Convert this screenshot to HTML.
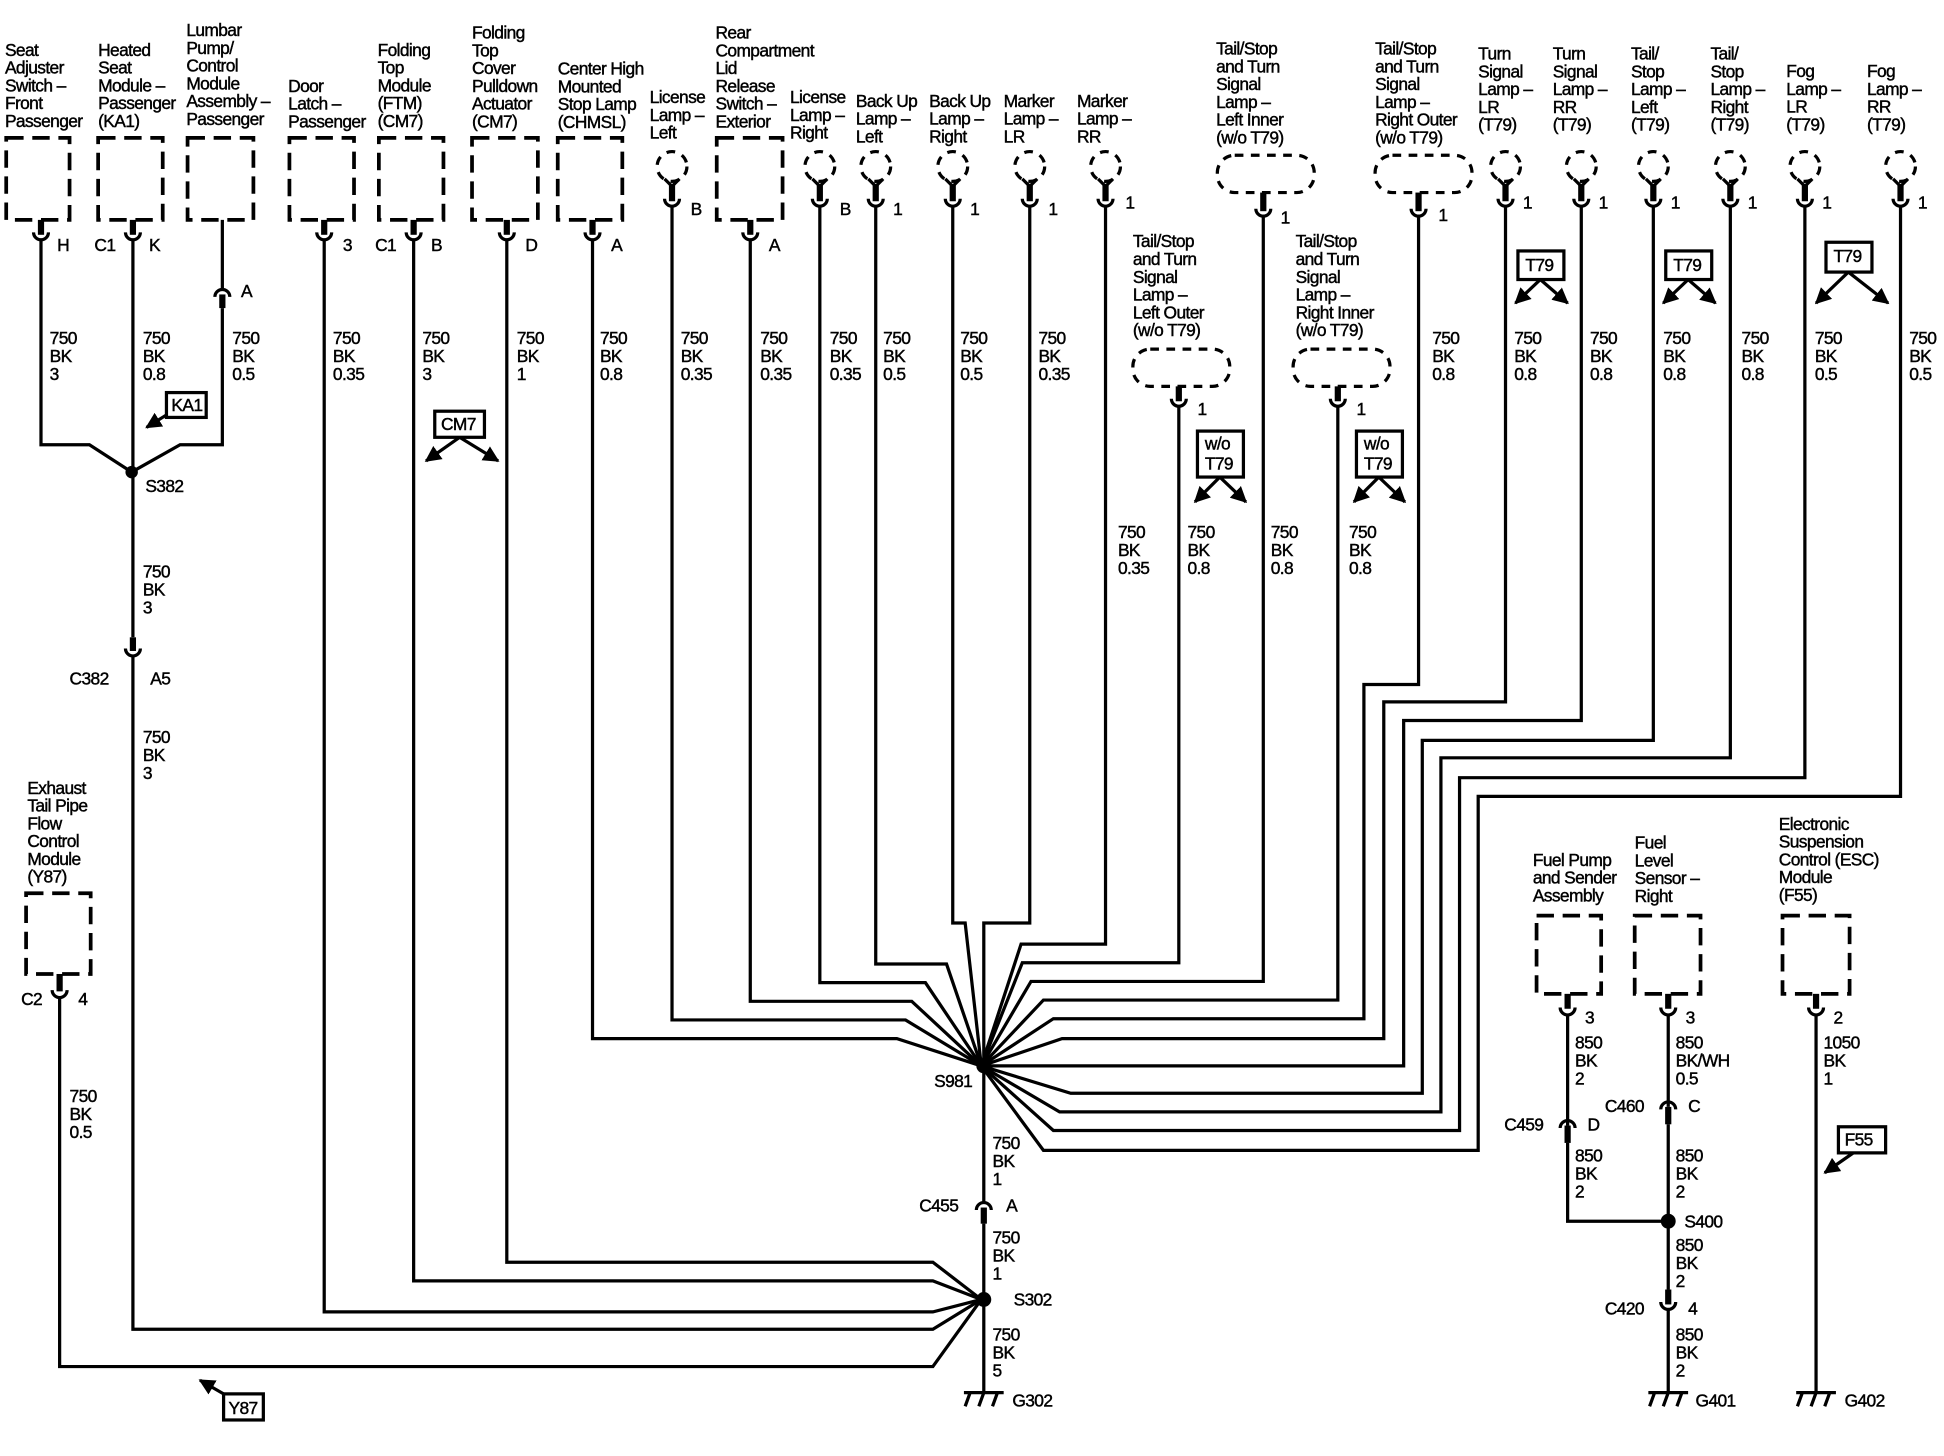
<!DOCTYPE html>
<html><head><meta charset="utf-8"><style>
html,body{margin:0;padding:0;background:#fff}
svg{display:block}
text{font-family:"Liberation Sans Narrow","Liberation Sans",sans-serif;font-size:14px;letter-spacing:-0.5px;fill:#000;stroke:#000;stroke-width:0.35}
.w{fill:none;stroke:#000;stroke-width:2.6;stroke-linejoin:miter}
.b{fill:none;stroke:#000;stroke-width:3;stroke-dasharray:14 7}
.s{stroke:#000;stroke-width:5}
.c{fill:none;stroke:#000;stroke-width:2.6}
.bx{fill:#fff;stroke:#000;stroke-width:2.6}
</style></head><body>
<svg width="1944" height="1456" viewBox="0 0 1565 1172" preserveAspectRatio="none" xmlns="http://www.w3.org/2000/svg">
<defs><marker id="a" viewBox="0 0 10 10" refX="9" refY="5" markerWidth="5" markerHeight="5" orient="auto"><path d="M0,0L10,5L0,10z" fill="#000"/></marker></defs>

<g class="b">
<rect x="5" y="111" width="51" height="66"/><rect x="79" y="111" width="52" height="66"/><rect x="151" y="111" width="53" height="66"/>
<rect x="233" y="111" width="52" height="66"/><rect x="305" y="111" width="52" height="66"/><rect x="380" y="111" width="53" height="66"/>
<rect x="449" y="111" width="52" height="66"/><rect x="577" y="111" width="53" height="66"/>
<rect x="21" y="719" width="52" height="65"/>
<rect x="1237" y="737" width="52" height="63"/><rect x="1316" y="737" width="53" height="63"/><rect x="1435" y="737" width="54" height="63"/>
</g>
<g class="b" style="stroke-dasharray:7 6;stroke-width:2.6">
<circle cx="541" cy="134" r="12"/><circle cx="660" cy="134" r="12"/><circle cx="705" cy="134" r="12"/><circle cx="767" cy="134" r="12"/>
<circle cx="829" cy="134" r="12"/><circle cx="890" cy="134" r="12"/><circle cx="1212" cy="134" r="12"/><circle cx="1273" cy="134" r="12"/>
<circle cx="1331" cy="134" r="12"/><circle cx="1393" cy="134" r="12"/><circle cx="1453" cy="134" r="12"/><circle cx="1530" cy="134" r="12"/>
<rect x="980" y="125" width="78" height="30" rx="14"/><rect x="1107" y="125" width="78" height="30" rx="14"/>
<rect x="912" y="281" width="78" height="30" rx="14"/><rect x="1041" y="281" width="78" height="30" rx="14"/>
</g>
<g class="c">
<path d="M535,144L541,150L547,144M654,144L660,150L666,144M699,144L705,150L711,144M761,144L767,150L773,144M823,144L829,150L835,144M884,144L890,150L896,144M1206,144L1212,150L1218,144M1267,144L1273,150L1279,144M1325,144L1331,150L1337,144M1387,144L1393,150L1399,144M1447,144L1453,150L1459,144M1524,144L1530,150L1536,144"/>
</g>
<g class="s">
<line x1="541" y1="148" x2="541" y2="162"/><line x1="660" y1="148" x2="660" y2="162"/><line x1="705" y1="148" x2="705" y2="162"/><line x1="767" y1="148" x2="767" y2="162"/>
<line x1="829" y1="148" x2="829" y2="162"/><line x1="890" y1="148" x2="890" y2="162"/><line x1="1212" y1="148" x2="1212" y2="162"/><line x1="1273" y1="148" x2="1273" y2="162"/>
<line x1="1331" y1="148" x2="1331" y2="162"/><line x1="1393" y1="148" x2="1393" y2="162"/><line x1="1453" y1="148" x2="1453" y2="162"/><line x1="1530" y1="148" x2="1530" y2="162"/>
<line x1="1017" y1="155" x2="1017" y2="170"/><line x1="1142" y1="155" x2="1142" y2="170"/><line x1="949" y1="311" x2="949" y2="323"/><line x1="1077" y1="311" x2="1077" y2="323"/>
<line x1="33" y1="177" x2="33" y2="189"/><line x1="107" y1="177" x2="107" y2="189"/><line x1="261" y1="177" x2="261" y2="189"/><line x1="333" y1="177" x2="333" y2="189"/>
<line x1="408" y1="177" x2="408" y2="189"/><line x1="477" y1="177" x2="477" y2="189"/><line x1="604" y1="177" x2="604" y2="189"/>
<line x1="48" y1="784" x2="48" y2="798"/><line x1="1262" y1="800" x2="1262" y2="812"/><line x1="1343" y1="800" x2="1343" y2="812"/><line x1="1462" y1="800" x2="1462" y2="812"/>
<line x1="179" y1="237" x2="179" y2="248"/><line x1="107" y1="513" x2="107" y2="524"/><line x1="792" y1="972" x2="792" y2="985"/>
<line x1="1262" y1="906" x2="1262" y2="920"/><line x1="1343" y1="891" x2="1343" y2="905"/><line x1="1343" y1="1038" x2="1343" y2="1050"/>
</g>
<g class="c">
<path d="M535,160a6,6 0 0 0 12,0M654,160a6,6 0 0 0 12,0M699,160a6,6 0 0 0 12,0M761,160a6,6 0 0 0 12,0M823,160a6,6 0 0 0 12,0M884,160a6,6 0 0 0 12,0M1206,160a6,6 0 0 0 12,0M1267,160a6,6 0 0 0 12,0M1325,160a6,6 0 0 0 12,0M1387,160a6,6 0 0 0 12,0M1447,160a6,6 0 0 0 12,0M1524,160a6,6 0 0 0 12,0"/>
<path d="M1011,168a6,6 0 0 0 12,0M1136,168a6,6 0 0 0 12,0M943,321a6,6 0 0 0 12,0M1071,321a6,6 0 0 0 12,0"/>
<path d="M27,187a6,6 0 0 0 12,0M101,187a6,6 0 0 0 12,0M255,187a6,6 0 0 0 12,0M327,187a6,6 0 0 0 12,0M402,187a6,6 0 0 0 12,0M471,187a6,6 0 0 0 12,0M598,187a6,6 0 0 0 12,0"/>
<path d="M42,797a6,6 0 0 0 12,0M1256,811a6,6 0 0 0 12,0M1337,811a6,6 0 0 0 12,0M1456,811a6,6 0 0 0 12,0M101,522a6,6 0 0 0 12,0M1337,1048a6,6 0 0 0 12,0"/>
<path d="M173,239a6,6 0 0 1 12,0M786,974a6,6 0 0 1 12,0M1256,908a6,6 0 0 1 12,0M1337,893a6,6 0 0 1 12,0"/>
</g>

<g class="w">
<path d="M33,193V358H72L106,380"/><path d="M179,248V358H145L106,380"/><path d="M107,193V513"/><path d="M179,177V233"/>
<path d="M107,528V1070H751L790,1046"/><path d="M48,803V1100H751L790,1046"/>
<path d="M261,193V1056H751L790,1046"/><path d="M333,193V1031H751L790,1046"/><path d="M408,193V1016H751L790,1046"/>
<path d="M477,193V836H722L790,858"/><path d="M541,166V821H729L790,858"/><path d="M604,193V806H734L790,858"/>
<path d="M660,166V791H745L790,858"/><path d="M705,166V776H762L790,858"/><path d="M767,166V743H777L790,858"/>
<path d="M829,166V743H792V968"/><path d="M792,985V1120"/>
<path d="M890,166V760H822L790,858"/><path d="M949,327V775H823L790,858"/><path d="M1017,174V790H830L790,858"/>
<path d="M1077,327V805H840L790,858"/><path d="M1142,174V551H1098V820H848L790,858"/><path d="M1212,166V565H1114V836H855L790,858"/>
<path d="M1273,166V580H1130V858H790"/><path d="M1331,166V596H1145V880H862L790,858"/><path d="M1393,166V610H1160V895H853L790,858"/>
<path d="M1453,166V626H1175V910H848L790,858"/><path d="M1530,166V641H1190V926H840L790,858"/>
<path d="M1262,817V906"/><path d="M1262,920V983H1343"/><path d="M1343,817V891"/><path d="M1343,905V1038"/><path d="M1343,1054V1120"/><path d="M1462,817V1120"/>
</g>
<circle cx="106" cy="380" r="5"/><circle cx="792" cy="858" r="6"/><circle cx="792" cy="1046" r="6"/><circle cx="1343" cy="983" r="6"/>
<g class="w">
<path d="M776,1121H808M781,1121l-4,11M792,1121l-4,11M803,1121l-4,11"/>
<path d="M1327,1121H1359M1332,1121l-4,11M1343,1121l-4,11M1354,1121l-4,11"/>
<path d="M1446,1121H1478M1451,1121l-4,11M1462,1121l-4,11M1473,1121l-4,11"/>
</g>
<rect class="bx" x="134" y="316" width="32" height="20"/><text x="138" y="331">KA1</text>
<line class="w" x1="134" y1="334" x2="118" y2="344" marker-end="url(#a)"/>
<rect class="bx" x="350" y="331" width="40" height="21"/><text x="355" y="346">CM7</text>
<line class="w" x1="370" y1="352" x2="343" y2="371" marker-end="url(#a)"/><line class="w" x1="370" y1="352" x2="401" y2="371" marker-end="url(#a)"/>
<rect class="bx" x="964" y="347" width="37" height="37"/><text x="970" y="362">w/o</text><text x="970" y="378">T79</text>
<line class="w" x1="982" y1="384" x2="962" y2="404" marker-end="url(#a)"/><line class="w" x1="982" y1="384" x2="1003" y2="404" marker-end="url(#a)"/>
<rect class="bx" x="1092" y="347" width="37" height="37"/><text x="1098" y="362">w/o</text><text x="1098" y="378">T79</text>
<line class="w" x1="1110" y1="384" x2="1090" y2="404" marker-end="url(#a)"/><line class="w" x1="1110" y1="384" x2="1131" y2="404" marker-end="url(#a)"/>
<rect class="bx" x="1222" y="202" width="37" height="23"/><text x="1228" y="218">T79</text>
<line class="w" x1="1240" y1="225" x2="1220" y2="244" marker-end="url(#a)"/><line class="w" x1="1240" y1="225" x2="1262" y2="244" marker-end="url(#a)"/>
<rect class="bx" x="1341" y="202" width="37" height="23"/><text x="1347" y="218">T79</text>
<line class="w" x1="1359" y1="225" x2="1339" y2="244" marker-end="url(#a)"/><line class="w" x1="1359" y1="225" x2="1381" y2="244" marker-end="url(#a)"/>
<rect class="bx" x="1470" y="195" width="37" height="24"/><text x="1476" y="211">T79</text>
<line class="w" x1="1488" y1="219" x2="1462" y2="244" marker-end="url(#a)"/><line class="w" x1="1488" y1="219" x2="1520" y2="244" marker-end="url(#a)"/>
<rect class="bx" x="1480" y="907" width="38" height="21"/><text x="1485" y="922">F55</text>
<line class="w" x1="1492" y1="928" x2="1469" y2="944" marker-end="url(#a)"/>
<rect class="bx" x="180" y="1122" width="32" height="21"/><text x="184" y="1138">Y87</text>
<line class="w" x1="180" y1="1122" x2="161" y2="1111" marker-end="url(#a)"/>

<g>
<text x="4" y="45">Seat<tspan x="4" dy="14.3">Adjuster</tspan><tspan x="4" dy="14.3">Switch –</tspan><tspan x="4" dy="14.3">Front</tspan><tspan x="4" dy="14.3">Passenger</tspan></text>
<text x="79" y="45">Heated<tspan x="79" dy="14.3">Seat</tspan><tspan x="79" dy="14.3">Module –</tspan><tspan x="79" dy="14.3">Passenger</tspan><tspan x="79" dy="14.3">(KA1)</tspan></text>
<text x="150" y="29">Lumbar<tspan x="150" dy="14.3">Pump/</tspan><tspan x="150" dy="14.3">Control</tspan><tspan x="150" dy="14.3">Module</tspan><tspan x="150" dy="14.3">Assembly –</tspan><tspan x="150" dy="14.3">Passenger</tspan></text>
<text x="232" y="74">Door<tspan x="232" dy="14.3">Latch –</tspan><tspan x="232" dy="14.3">Passenger</tspan></text>
<text x="304" y="45">Folding<tspan x="304" dy="14.3">Top</tspan><tspan x="304" dy="14.3">Module</tspan><tspan x="304" dy="14.3">(FTM)</tspan><tspan x="304" dy="14.3">(CM7)</tspan></text>
<text x="380" y="31">Folding<tspan x="380" dy="14.3">Top</tspan><tspan x="380" dy="14.3">Cover</tspan><tspan x="380" dy="14.3">Pulldown</tspan><tspan x="380" dy="14.3">Actuator</tspan><tspan x="380" dy="14.3">(CM7)</tspan></text>
<text x="449" y="60">Center High<tspan x="449" dy="14.3">Mounted</tspan><tspan x="449" dy="14.3">Stop Lamp</tspan><tspan x="449" dy="14.3">(CHMSL)</tspan></text>
<text x="523" y="83">License<tspan x="523" dy="14.3">Lamp –</tspan><tspan x="523" dy="14.3">Left</tspan></text>
<text x="576" y="31">Rear<tspan x="576" dy="14.3">Compartment</tspan><tspan x="576" dy="14.3">Lid</tspan><tspan x="576" dy="14.3">Release</tspan><tspan x="576" dy="14.3">Switch –</tspan><tspan x="576" dy="14.3">Exterior</tspan></text>
<text x="636" y="83">License<tspan x="636" dy="14.3">Lamp –</tspan><tspan x="636" dy="14.3">Right</tspan></text>
<text x="689" y="86">Back Up<tspan x="689" dy="14.3">Lamp –</tspan><tspan x="689" dy="14.3">Left</tspan></text>
<text x="748" y="86">Back Up<tspan x="748" dy="14.3">Lamp –</tspan><tspan x="748" dy="14.3">Right</tspan></text>
<text x="808" y="86">Marker<tspan x="808" dy="14.3">Lamp –</tspan><tspan x="808" dy="14.3">LR</tspan></text>
<text x="867" y="86">Marker<tspan x="867" dy="14.3">Lamp –</tspan><tspan x="867" dy="14.3">RR</tspan></text>
<text x="979" y="44">Tail/Stop<tspan x="979" dy="14.3">and Turn</tspan><tspan x="979" dy="14.3">Signal</tspan><tspan x="979" dy="14.3">Lamp –</tspan><tspan x="979" dy="14.3">Left Inner</tspan><tspan x="979" dy="14.3">(w/o T79)</tspan></text>
<text x="1107" y="44">Tail/Stop<tspan x="1107" dy="14.3">and Turn</tspan><tspan x="1107" dy="14.3">Signal</tspan><tspan x="1107" dy="14.3">Lamp –</tspan><tspan x="1107" dy="14.3">Right Outer</tspan><tspan x="1107" dy="14.3">(w/o T79)</tspan></text>
<text x="1190" y="48">Turn<tspan x="1190" dy="14.3">Signal</tspan><tspan x="1190" dy="14.3">Lamp –</tspan><tspan x="1190" dy="14.3">LR</tspan><tspan x="1190" dy="14.3">(T79)</tspan></text>
<text x="1250" y="48">Turn<tspan x="1250" dy="14.3">Signal</tspan><tspan x="1250" dy="14.3">Lamp –</tspan><tspan x="1250" dy="14.3">RR</tspan><tspan x="1250" dy="14.3">(T79)</tspan></text>
<text x="1313" y="48">Tail/<tspan x="1313" dy="14.3">Stop</tspan><tspan x="1313" dy="14.3">Lamp –</tspan><tspan x="1313" dy="14.3">Left</tspan><tspan x="1313" dy="14.3">(T79)</tspan></text>
<text x="1377" y="48">Tail/<tspan x="1377" dy="14.3">Stop</tspan><tspan x="1377" dy="14.3">Lamp –</tspan><tspan x="1377" dy="14.3">Right</tspan><tspan x="1377" dy="14.3">(T79)</tspan></text>
<text x="1438" y="62">Fog<tspan x="1438" dy="14.3">Lamp –</tspan><tspan x="1438" dy="14.3">LR</tspan><tspan x="1438" dy="14.3">(T79)</tspan></text>
<text x="1503" y="62">Fog<tspan x="1503" dy="14.3">Lamp –</tspan><tspan x="1503" dy="14.3">RR</tspan><tspan x="1503" dy="14.3">(T79)</tspan></text>
<text x="912" y="199">Tail/Stop<tspan x="912" dy="14.3">and Turn</tspan><tspan x="912" dy="14.3">Signal</tspan><tspan x="912" dy="14.3">Lamp –</tspan><tspan x="912" dy="14.3">Left Outer</tspan><tspan x="912" dy="14.3">(w/o T79)</tspan></text>
<text x="1043" y="199">Tail/Stop<tspan x="1043" dy="14.3">and Turn</tspan><tspan x="1043" dy="14.3">Signal</tspan><tspan x="1043" dy="14.3">Lamp –</tspan><tspan x="1043" dy="14.3">Right Inner</tspan><tspan x="1043" dy="14.3">(w/o T79)</tspan></text>
<text x="22" y="639">Exhaust<tspan x="22" dy="14.3">Tail Pipe</tspan><tspan x="22" dy="14.3">Flow</tspan><tspan x="22" dy="14.3">Control</tspan><tspan x="22" dy="14.3">Module</tspan><tspan x="22" dy="14.3">(Y87)</tspan></text>
<text x="1234" y="697">Fuel Pump<tspan x="1234" dy="14.3">and Sender</tspan><tspan x="1234" dy="14.3">Assembly</tspan></text>
<text x="1316" y="683">Fuel<tspan x="1316" dy="14.3">Level</tspan><tspan x="1316" dy="14.3">Sensor –</tspan><tspan x="1316" dy="14.3">Right</tspan></text>
<text x="1432" y="668">Electronic<tspan x="1432" dy="14.3">Suspension</tspan><tspan x="1432" dy="14.3">Control (ESC)</tspan><tspan x="1432" dy="14.3">Module</tspan><tspan x="1432" dy="14.3">(F55)</tspan></text>
</g>

<g>
<text x="46" y="202">H</text><text x="76" y="202">C1</text><text x="120" y="202">K</text><text x="194" y="239">A</text>
<text x="276" y="202">3</text><text x="302" y="202">C1</text><text x="347" y="202">B</text><text x="423" y="202">D</text><text x="492" y="202">A</text>
<text x="556" y="173">B</text><text x="619" y="202">A</text><text x="676" y="173">B</text><text x="719" y="173">1</text><text x="781" y="173">1</text>
<text x="844" y="173">1</text><text x="906" y="168">1</text><text x="1031" y="180">1</text><text x="1158" y="178">1</text>
<text x="964" y="334">1</text><text x="1092" y="334">1</text>
<text x="1226" y="168">1</text><text x="1287" y="168">1</text><text x="1345" y="168">1</text><text x="1407" y="168">1</text><text x="1467" y="168">1</text><text x="1544" y="168">1</text>
<text x="17" y="809">C2</text><text x="63" y="809">4</text>
<text x="56" y="551">C382</text><text x="121" y="551">A5</text>
<text x="117" y="396">S382</text>
<text x="752" y="875">S981</text>
<text x="740" y="975">C455</text><text x="810" y="975">A</text>
<text x="816" y="1051">S302</text>
<text x="815" y="1132">G302</text>
<text x="1276" y="824">3</text><text x="1357" y="824">3</text><text x="1476" y="824">2</text>
<text x="1211" y="910">C459</text><text x="1278" y="910">D</text>
<text x="1292" y="895">C460</text><text x="1359" y="895">C</text>
<text x="1356" y="988">S400</text>
<text x="1292" y="1058">C420</text><text x="1359" y="1058">4</text>
<text x="1365" y="1132">G401</text><text x="1485" y="1132">G402</text>
</g>

<g>
<text x="40" y="277">750<tspan x="40" dy="14.5">BK</tspan><tspan x="40" dy="14.5">3</tspan></text>
<text x="115" y="277">750<tspan x="115" dy="14.5">BK</tspan><tspan x="115" dy="14.5">0.8</tspan></text>
<text x="187" y="277">750<tspan x="187" dy="14.5">BK</tspan><tspan x="187" dy="14.5">0.5</tspan></text>
<text x="268" y="277">750<tspan x="268" dy="14.5">BK</tspan><tspan x="268" dy="14.5">0.35</tspan></text>
<text x="340" y="277">750<tspan x="340" dy="14.5">BK</tspan><tspan x="340" dy="14.5">3</tspan></text>
<text x="416" y="277">750<tspan x="416" dy="14.5">BK</tspan><tspan x="416" dy="14.5">1</tspan></text>
<text x="483" y="277">750<tspan x="483" dy="14.5">BK</tspan><tspan x="483" dy="14.5">0.8</tspan></text>
<text x="548" y="277">750<tspan x="548" dy="14.5">BK</tspan><tspan x="548" dy="14.5">0.35</tspan></text>
<text x="612" y="277">750<tspan x="612" dy="14.5">BK</tspan><tspan x="612" dy="14.5">0.35</tspan></text>
<text x="668" y="277">750<tspan x="668" dy="14.5">BK</tspan><tspan x="668" dy="14.5">0.35</tspan></text>
<text x="711" y="277">750<tspan x="711" dy="14.5">BK</tspan><tspan x="711" dy="14.5">0.5</tspan></text>
<text x="773" y="277">750<tspan x="773" dy="14.5">BK</tspan><tspan x="773" dy="14.5">0.5</tspan></text>
<text x="836" y="277">750<tspan x="836" dy="14.5">BK</tspan><tspan x="836" dy="14.5">0.35</tspan></text>
<text x="1153" y="277">750<tspan x="1153" dy="14.5">BK</tspan><tspan x="1153" dy="14.5">0.8</tspan></text>
<text x="1219" y="277">750<tspan x="1219" dy="14.5">BK</tspan><tspan x="1219" dy="14.5">0.8</tspan></text>
<text x="1280" y="277">750<tspan x="1280" dy="14.5">BK</tspan><tspan x="1280" dy="14.5">0.8</tspan></text>
<text x="1339" y="277">750<tspan x="1339" dy="14.5">BK</tspan><tspan x="1339" dy="14.5">0.8</tspan></text>
<text x="1402" y="277">750<tspan x="1402" dy="14.5">BK</tspan><tspan x="1402" dy="14.5">0.8</tspan></text>
<text x="1461" y="277">750<tspan x="1461" dy="14.5">BK</tspan><tspan x="1461" dy="14.5">0.5</tspan></text>
<text x="1537" y="277">750<tspan x="1537" dy="14.5">BK</tspan><tspan x="1537" dy="14.5">0.5</tspan></text>
<text x="900" y="433">750<tspan x="900" dy="14.5">BK</tspan><tspan x="900" dy="14.5">0.35</tspan></text>
<text x="956" y="433">750<tspan x="956" dy="14.5">BK</tspan><tspan x="956" dy="14.5">0.8</tspan></text>
<text x="1023" y="433">750<tspan x="1023" dy="14.5">BK</tspan><tspan x="1023" dy="14.5">0.8</tspan></text>
<text x="1086" y="433">750<tspan x="1086" dy="14.5">BK</tspan><tspan x="1086" dy="14.5">0.8</tspan></text>
<text x="115" y="465">750<tspan x="115" dy="14.5">BK</tspan><tspan x="115" dy="14.5">3</tspan></text>
<text x="115" y="598">750<tspan x="115" dy="14.5">BK</tspan><tspan x="115" dy="14.5">3</tspan></text>
<text x="56" y="887">750<tspan x="56" dy="14.5">BK</tspan><tspan x="56" dy="14.5">0.5</tspan></text>
<text x="799" y="925">750<tspan x="799" dy="14.5">BK</tspan><tspan x="799" dy="14.5">1</tspan></text>
<text x="799" y="1001">750<tspan x="799" dy="14.5">BK</tspan><tspan x="799" dy="14.5">1</tspan></text>
<text x="799" y="1079">750<tspan x="799" dy="14.5">BK</tspan><tspan x="799" dy="14.5">5</tspan></text>
<text x="1268" y="844">850<tspan x="1268" dy="14.5">BK</tspan><tspan x="1268" dy="14.5">2</tspan></text>
<text x="1349" y="844">850<tspan x="1349" dy="14.5">BK/WH</tspan><tspan x="1349" dy="14.5">0.5</tspan></text>
<text x="1468" y="844">1050<tspan x="1468" dy="14.5">BK</tspan><tspan x="1468" dy="14.5">1</tspan></text>
<text x="1268" y="935">850<tspan x="1268" dy="14.5">BK</tspan><tspan x="1268" dy="14.5">2</tspan></text>
<text x="1349" y="935">850<tspan x="1349" dy="14.5">BK</tspan><tspan x="1349" dy="14.5">2</tspan></text>
<text x="1349" y="1007">850<tspan x="1349" dy="14.5">BK</tspan><tspan x="1349" dy="14.5">2</tspan></text>
<text x="1349" y="1079">850<tspan x="1349" dy="14.5">BK</tspan><tspan x="1349" dy="14.5">2</tspan></text>
</g>
</svg>
</body></html>
